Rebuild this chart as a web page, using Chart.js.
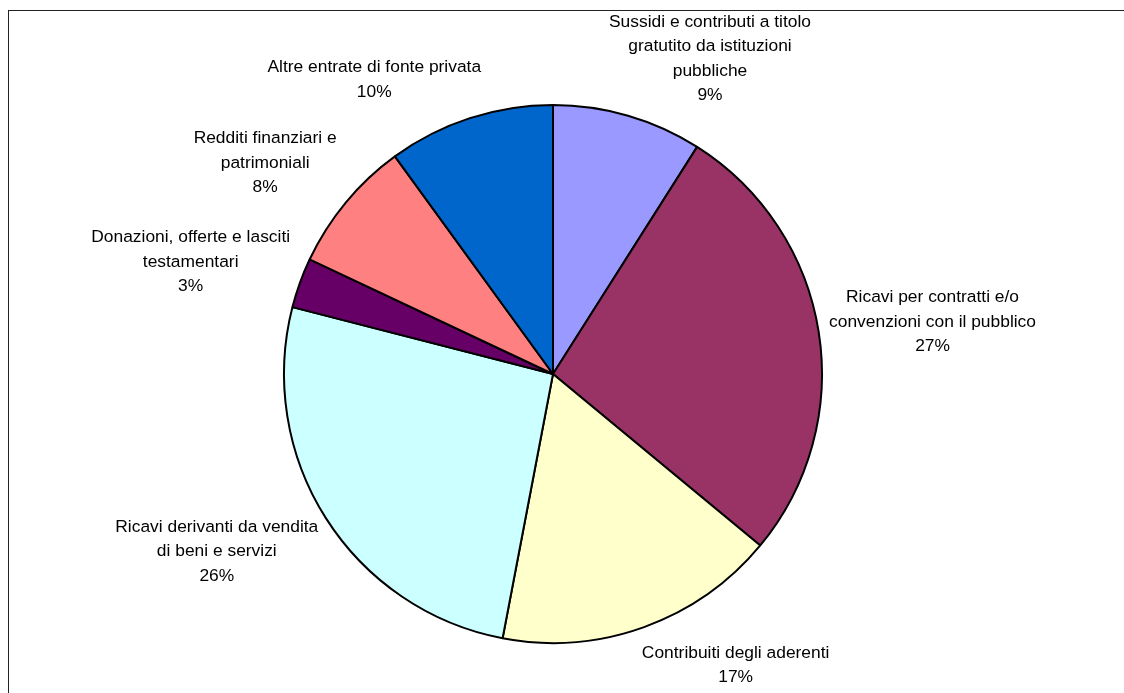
<!DOCTYPE html>
<html lang="it">
<head>
<meta charset="utf-8">
<title>Entrate per fonte</title>
<script src="https://cdn.jsdelivr.net/npm/chart.js@4.4.1/dist/chart.umd.min.js"></script>
<style>
  html, body { margin: 0; padding: 0; background: #fff; }
  /* cornice del grafico: bordo solo in alto e a sinistra, il resto esce dalla pagina */
  #frame {
    position: absolute; left: 8px; top: 10px;
    width: 1300px; height: 900px;
    border-top: 1px solid #222; border-left: 1px solid #222;
    overflow: hidden;
  }
  #torta { position: absolute; left: -9px; top: -11px; }
</style>
</head>
<body>
<div id="frame">
  <canvas id="torta" width="1124" height="693"></canvas>
</div>
<script>
// ==========================================
// Dati
// ==========================================
const categorie = [
  ["Sussidi e contributi a titolo", "gratutito da istituzioni", "pubbliche"],
  ["Ricavi per contratti e/o", "convenzioni con il pubblico"],
  ["Contribuiti degli aderenti"],
  ["Ricavi derivanti da vendita", "di beni e servizi"],
  ["Donazioni, offerte e lasciti", "testamentari"],
  ["Redditi finanziari e", "patrimoniali"],
  ["Altre entrate di fonte privata"]
];
const valori = [9, 27, 17, 26, 3, 8, 10];
const colori = ['#9999FF', '#993366', '#FFFFCC', '#CCFFFF', '#660066', '#FF8080', '#0066CC'];

const FONT = '17.4px "Liberation Sans", Arial, sans-serif';
const LINE_H = 24.5;

// etichette esterne: nome + percentuale, posizionate fuori dal bordo di ogni fetta
const etichetteEsterne = {
  id: 'etichetteEsterne',
  afterDatasetsDraw(chart) {
    const ctx = chart.ctx;
    const meta = chart.getDatasetMeta(0);
    const tot = valori.reduce((a, c) => a + c, 0);
    ctx.save();
    ctx.font = FONT;
    ctx.fillStyle = '#000';
    ctx.textAlign = 'center';
    ctx.textBaseline = 'middle';
    meta.data.forEach((arc, i) => {
      const p = arc.getProps(['x', 'y', 'startAngle', 'endAngle', 'outerRadius'], true);
      const mid = (p.startAngle + p.endAngle) / 2;
      const dx = Math.cos(mid), dy = Math.sin(mid);
      const righe = categorie[i].concat([Math.round(valori[i] / tot * 100) + '%']);
      const w = Math.max(...righe.map(r => ctx.measureText(r).width));
      const h = righe.length * LINE_H;
      const clamp = v => Math.max(-1, Math.min(1, v));
      const r = p.outerRadius + 21;
      const cx = p.x + dx * r + w / 2 * 0.9 * clamp(dx * 3);
      const cy = p.y + dy * r + h / 2 * 0.75 * clamp(dy * 1.5);
      righe.forEach((t, k) => {
        ctx.fillText(t, cx, cy - h / 2 + LINE_H * (k + 0.5));
      });
    });
    ctx.restore();
  }
};

new Chart(document.getElementById('torta').getContext('2d'), {
  type: 'pie',
  data: {
    labels: categorie,
    datasets: [{
      data: valori,
      backgroundColor: colori,
      borderColor: '#000',
      borderWidth: 2
    }]
  },
  options: {
    responsive: false,
    animation: false,
    devicePixelRatio: 1,
    layout: { padding: { top: 104, bottom: 49, left: 283, right: 301 } },
    plugins: { legend: { display: false }, tooltip: { enabled: false } }
  },
  plugins: [etichetteEsterne]
});
</script>
</body>
</html>
